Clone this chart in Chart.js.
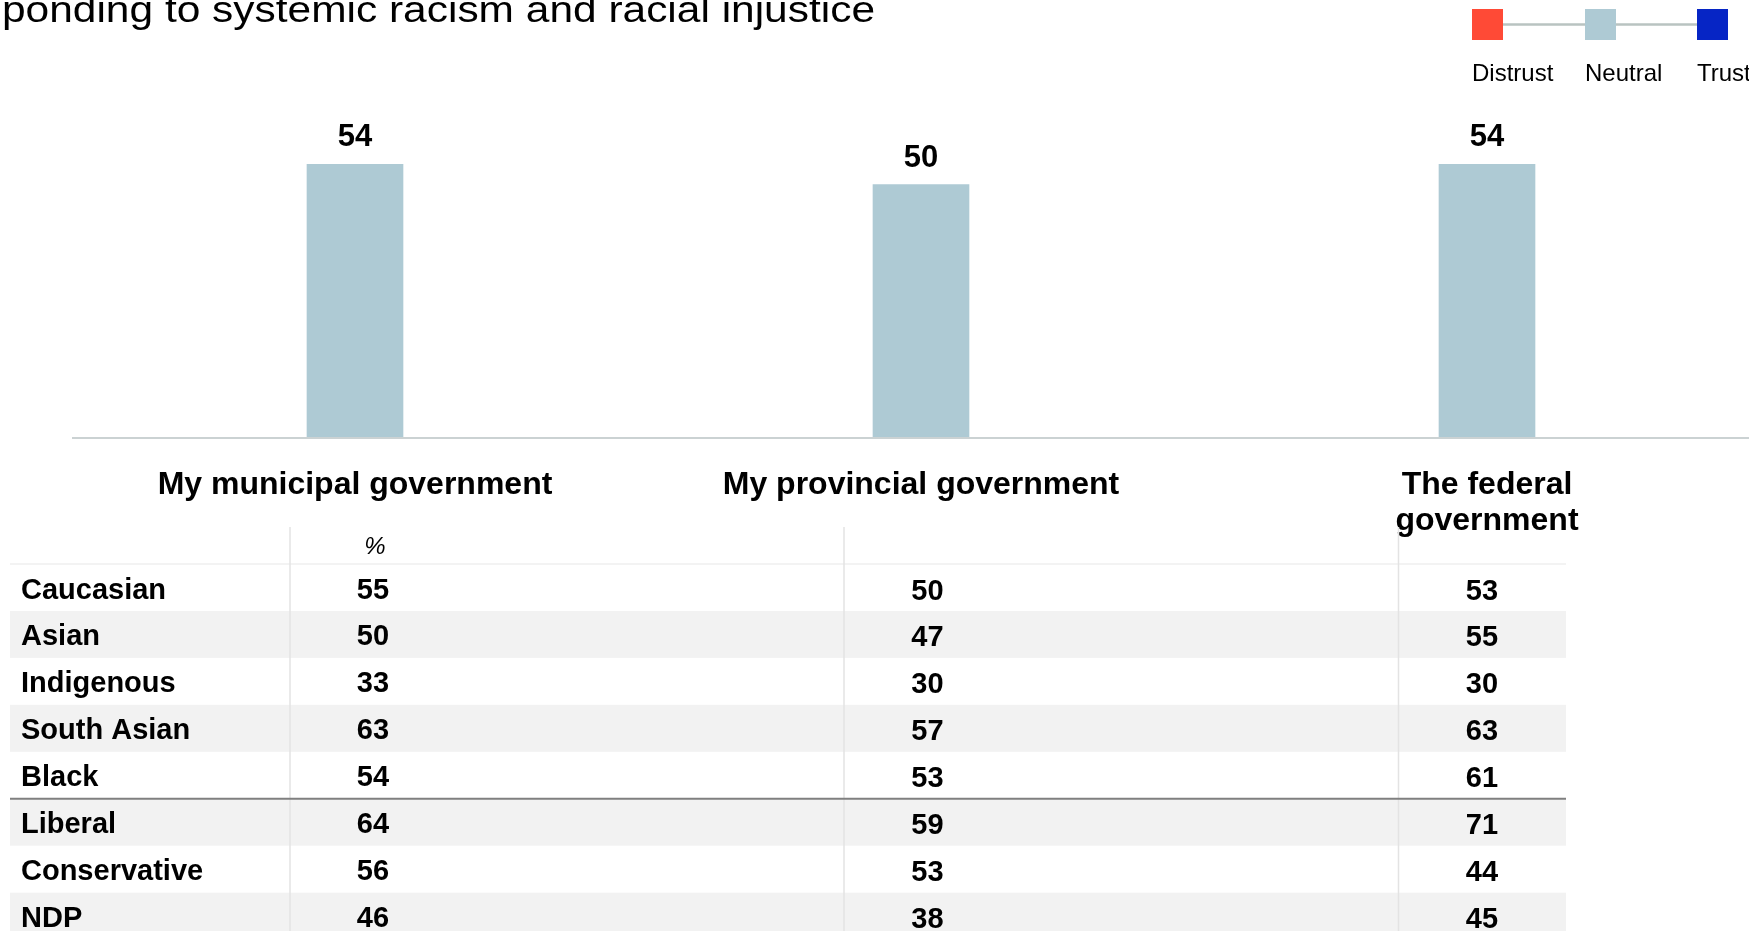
<!DOCTYPE html>
<html>
<head>
<meta charset="utf-8">
<script src="https://cdn.jsdelivr.net/npm/chart.js@4.4.1/dist/chart.umd.min.js"></script>
<style>
  html, body { margin: 0; padding: 0; background: #fff; overflow: hidden; width: 1749px; height: 931px; }
  #wrap { position: absolute; left: 0; top: 0; width: 1800px; height: 931px; }
  canvas { display: block; }
</style>
</head>
<body>
<div id="wrap"><canvas id="c" width="1800" height="931"></canvas></div>
<script>
// ---- data ----
const titleText = 'ponding to systemic racism and racial injustice';
const categories = ['My municipal government', 'My provincial government', ['The federal', 'government']];
const neutralValues = [54, 50, 54];

const legendLabels = ['Distrust', 'Neutral', 'Trust'];
const legendColors = ['#ff4a36', '#aecad4', '#0625c5'];

const groups = ['Caucasian', 'Asian', 'Indigenous', 'South Asian', 'Black', 'Liberal', 'Conservative', 'NDP'];
const municipalValues  = [55, 50, 33, 63, 54, 64, 56, 46];
const provincialValues = [50, 47, 30, 57, 53, 59, 53, 38];
const federalValues    = [53, 55, 30, 63, 61, 71, 44, 45];
const tableUnit = '%';

// ---- styling ----
const FONT = '"Liberation Sans", Arial, Helvetica, sans-serif';
const TEXT = '#000';

const overlay = {
  id: 'overlay',
  afterDraw(chart) {
    const ctx = chart.ctx;
    const area = chart.chartArea;
    const x = chart.scales.x, y = chart.scales.y;

    // title (wide setting)
    ctx.save();
    ctx.fillStyle = TEXT;
    ctx.font = '37px ' + FONT;
    ctx.textBaseline = 'alphabetic';
    ctx.textAlign = 'left';
    const tw = ctx.measureText(titleText).width;
    ctx.translate(2, 22);
    ctx.scale(873 / tw, 1);
    ctx.fillText(titleText, 0, 0);
    ctx.restore();

    // legend: colour key joined by a line
    const keyX = [1472, 1585, 1697], keySize = 31, keyTop = 9;
    ctx.save();
    ctx.strokeStyle = '#b9c3c1';
    ctx.lineWidth = 2.5;
    ctx.beginPath();
    ctx.moveTo(keyX[0] + keySize / 2, keyTop + keySize / 2);
    ctx.lineTo(keyX[keyX.length - 1] + keySize / 2, keyTop + keySize / 2);
    ctx.stroke();
    ctx.font = '24px ' + FONT;
    ctx.textAlign = 'left';
    legendLabels.forEach((lab, i) => {
      ctx.fillStyle = legendColors[i];
      ctx.fillRect(keyX[i], keyTop, keySize, keySize);
      ctx.fillStyle = TEXT;
      ctx.fillText(lab, keyX[i], 81);
    });
    ctx.restore();

    // baseline axis
    const y0 = y.getPixelForValue(0);
    ctx.save();
    ctx.strokeStyle = '#cbd2d3';
    ctx.lineWidth = 2;
    ctx.beginPath();
    ctx.moveTo(area.left, y0 + 1);
    ctx.lineTo(chart.width, y0 + 1);
    ctx.stroke();
    ctx.restore();

    // value labels above bars
    const meta = chart.getDatasetMeta(0);
    ctx.save();
    ctx.fillStyle = TEXT;
    ctx.font = 'bold 31px ' + FONT;
    ctx.textAlign = 'center';
    meta.data.forEach((bar, i) => {
      ctx.fillText(String(neutralValues[i]), bar.x, bar.y - 18);
    });

    // category labels under the axis
    ctx.font = 'bold 32px ' + FONT;
    categories.forEach((cat, i) => {
      const cx = x.getPixelForValue(i);
      const lines = Array.isArray(cat) ? cat : [cat];
      lines.forEach((ln, j) => ctx.fillText(ln, cx, 494 + j * 36));
    });
    ctx.restore();

    // breakdown table
    const tLeft = 10, tRight = 1566, tTop = 564, rowH = 46.95;
    const colLines = [290, 844, 1398.5];
    const colCenters = [373, 927.5, 1482];
    const cols = [municipalValues, provincialValues, federalValues];
    ctx.save();
    // faint top rule
    ctx.fillStyle = '#f3f3f3';
    ctx.fillRect(tLeft, tTop - 1, tRight - tLeft, 2);
    // zebra rows
    groups.forEach((g, i) => {
      if (i % 2 === 1) {
        ctx.fillStyle = '#f2f2f2';
        ctx.fillRect(tLeft, tTop + i * rowH, tRight - tLeft, rowH);
      }
    });
    // column dividers
    ctx.strokeStyle = '#e3e3e3';
    ctx.lineWidth = 1.5;
    colLines.forEach(cx => {
      ctx.beginPath();
      ctx.moveTo(cx, 527);
      ctx.lineTo(cx, chart.height);
      ctx.stroke();
    });
    // divider between ethnicity and party groups
    ctx.strokeStyle = '#7f7f7f';
    ctx.lineWidth = 2;
    ctx.beginPath();
    ctx.moveTo(tLeft, tTop + 5 * rowH);
    ctx.lineTo(tRight, tTop + 5 * rowH);
    ctx.stroke();

    // unit header
    ctx.fillStyle = TEXT;
    ctx.font = 'italic 24px ' + FONT;
    ctx.textAlign = 'center';
    ctx.fillText(tableUnit, colCenters[0] + 2, 554);

    // row texts
    ctx.font = 'bold 29px ' + FONT;
    groups.forEach((g, i) => {
      const base = tTop + i * rowH + 34.5;
      ctx.textAlign = 'left';
      ctx.fillText(g, 21, base);
      ctx.textAlign = 'center';
      cols.forEach((vals, c) => ctx.fillText(String(vals[i]), colCenters[c], base + (c === 0 ? 0 : 1)));
    });
    ctx.restore();
  }
};

new Chart(document.getElementById('c'), {
  type: 'bar',
  data: {
    labels: categories,
    datasets: [{
      label: 'Neutral',
      data: neutralValues,
      backgroundColor: legendColors[1],
      borderWidth: 0,
      barThickness: 96
    }]
  },
  options: {
    responsive: false,
    devicePixelRatio: 1,
    animation: false,
    layout: { padding: { left: 72, right: 30, top: 33, bottom: 494 } },
    scales: {
      x: { display: false },
      y: { display: false, min: 0, max: 80 }
    },
    plugins: {
      legend: { display: false },
      tooltip: { enabled: false },
      title: { display: false }
    }
  },
  plugins: [overlay]
});
</script>
</body>
</html>
